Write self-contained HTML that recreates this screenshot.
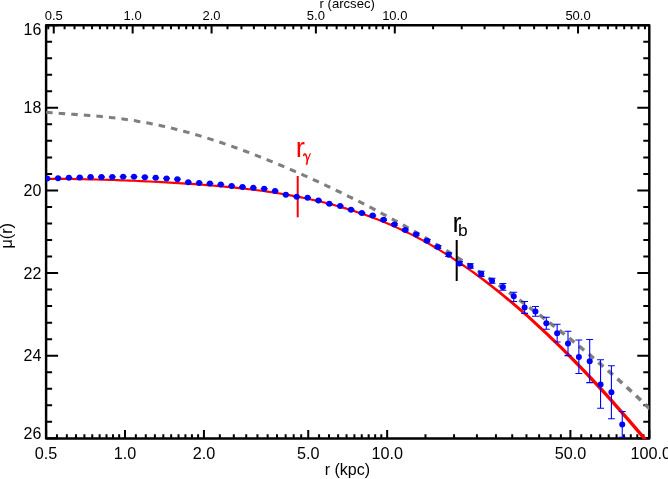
<!DOCTYPE html>
<html><head><meta charset="utf-8"><title>plot</title><style>html,body{margin:0;padding:0;background:#fff}body{width:668px;height:479px;overflow:hidden}</style></head><body>
<svg width="668" height="479" viewBox="0 0 668 479" style="display:block;will-change:transform">
<rect width="668" height="479" fill="#fff"/>
<defs><clipPath id="cp"><rect x="46.10" y="25.20" width="603.20" height="414.10"/></clipPath></defs>
<path d="M46.10 438.30 v-8.20 M125.01 438.30 v-8.20 M203.93 438.30 v-8.20 M308.24 438.30 v-8.20 M387.16 438.30 v-8.20 M570.39 438.30 v-8.20 M649.30 438.30 v-8.20 M56.95 438.30 v-4.10 M66.86 438.30 v-4.10 M75.97 438.30 v-4.10 M84.41 438.30 v-4.10 M92.26 438.30 v-4.10 M99.61 438.30 v-4.10 M106.51 438.30 v-4.10 M113.02 438.30 v-4.10 M119.17 438.30 v-4.10 M135.86 438.30 v-4.10 M145.77 438.30 v-4.10 M154.88 438.30 v-4.10 M163.32 438.30 v-4.10 M171.17 438.30 v-4.10 M178.52 438.30 v-4.10 M185.42 438.30 v-4.10 M191.93 438.30 v-4.10 M198.09 438.30 v-4.10 M219.84 438.30 v-4.10 M233.80 438.30 v-4.10 M246.23 438.30 v-4.10 M257.43 438.30 v-4.10 M267.64 438.30 v-4.10 M277.00 438.30 v-4.10 M285.65 438.30 v-4.10 M293.69 438.30 v-4.10 M301.20 438.30 v-4.10 M319.09 438.30 v-4.10 M329.00 438.30 v-4.10 M338.11 438.30 v-4.10 M346.55 438.30 v-4.10 M354.40 438.30 v-4.10 M361.75 438.30 v-4.10 M368.65 438.30 v-4.10 M375.16 438.30 v-4.10 M381.32 438.30 v-4.10 M425.46 438.30 v-4.10 M454.07 438.30 v-4.10 M476.92 438.30 v-4.10 M495.94 438.30 v-4.10 M512.23 438.30 v-4.10 M526.48 438.30 v-4.10 M539.14 438.30 v-4.10 M550.54 438.30 v-4.10 M560.89 438.30 v-4.10 M581.24 438.30 v-4.10 M591.14 438.30 v-4.10 M600.26 438.30 v-4.10 M608.69 438.30 v-4.10 M616.55 438.30 v-4.10 M623.90 438.30 v-4.10 M630.80 438.30 v-4.10 M637.30 438.30 v-4.10 M643.46 438.30 v-4.10 M53.75 25.20 v8.20 M132.66 25.20 v8.20 M211.58 25.20 v8.20 M315.89 25.20 v8.20 M394.81 25.20 v8.20 M578.04 25.20 v8.20 M64.60 25.20 v4.10 M74.51 25.20 v4.10 M83.62 25.20 v4.10 M92.06 25.20 v4.10 M99.91 25.20 v4.10 M107.26 25.20 v4.10 M114.16 25.20 v4.10 M120.67 25.20 v4.10 M126.82 25.20 v4.10 M143.51 25.20 v4.10 M153.42 25.20 v4.10 M162.53 25.20 v4.10 M170.97 25.20 v4.10 M178.82 25.20 v4.10 M186.17 25.20 v4.10 M193.07 25.20 v4.10 M199.58 25.20 v4.10 M205.74 25.20 v4.10 M227.49 25.20 v4.10 M241.45 25.20 v4.10 M253.88 25.20 v4.10 M265.08 25.20 v4.10 M275.29 25.20 v4.10 M284.65 25.20 v4.10 M293.30 25.20 v4.10 M301.34 25.20 v4.10 M308.85 25.20 v4.10 M326.74 25.20 v4.10 M336.65 25.20 v4.10 M345.76 25.20 v4.10 M354.20 25.20 v4.10 M362.05 25.20 v4.10 M369.40 25.20 v4.10 M376.30 25.20 v4.10 M382.81 25.20 v4.10 M388.97 25.20 v4.10 M433.11 25.20 v4.10 M461.72 25.20 v4.10 M484.57 25.20 v4.10 M503.59 25.20 v4.10 M519.88 25.20 v4.10 M534.13 25.20 v4.10 M546.79 25.20 v4.10 M558.19 25.20 v4.10 M568.54 25.20 v4.10 M588.89 25.20 v4.10 M598.79 25.20 v4.10 M607.91 25.20 v4.10 M616.34 25.20 v4.10 M624.20 25.20 v4.10 M631.55 25.20 v4.10 M638.45 25.20 v4.10 M644.95 25.20 v4.10 M48.3 25.20 v4.10 M46.10 25.20 h12.00 M649.30 25.20 h-12.00 M46.10 41.72 h6.00 M649.30 41.72 h-6.00 M46.10 58.25 h6.00 M649.30 58.25 h-6.00 M46.10 74.77 h6.00 M649.30 74.77 h-6.00 M46.10 91.30 h6.00 M649.30 91.30 h-6.00 M46.10 107.82 h12.00 M649.30 107.82 h-12.00 M46.10 124.34 h6.00 M649.30 124.34 h-6.00 M46.10 140.87 h6.00 M649.30 140.87 h-6.00 M46.10 157.39 h6.00 M649.30 157.39 h-6.00 M46.10 173.92 h6.00 M649.30 173.92 h-6.00 M46.10 190.44 h12.00 M649.30 190.44 h-12.00 M46.10 206.96 h6.00 M649.30 206.96 h-6.00 M46.10 223.49 h6.00 M649.30 223.49 h-6.00 M46.10 240.01 h6.00 M649.30 240.01 h-6.00 M46.10 256.54 h6.00 M649.30 256.54 h-6.00 M46.10 273.06 h12.00 M649.30 273.06 h-12.00 M46.10 289.58 h6.00 M649.30 289.58 h-6.00 M46.10 306.11 h6.00 M649.30 306.11 h-6.00 M46.10 322.63 h6.00 M649.30 322.63 h-6.00 M46.10 339.16 h6.00 M649.30 339.16 h-6.00 M46.10 355.68 h12.00 M649.30 355.68 h-12.00 M46.10 372.20 h6.00 M649.30 372.20 h-6.00 M46.10 388.73 h6.00 M649.30 388.73 h-6.00 M46.10 405.25 h6.00 M649.30 405.25 h-6.00 M46.10 421.78 h6.00 M649.30 421.78 h-6.00 M46.10 438.30 h12.00 M649.30 438.30 h-12.00" stroke="#000" stroke-width="2" fill="none"/>
<path d="M46.10 25.20 H649.30 V438.45 H46.10 Z" fill="none" stroke="#000" stroke-width="2.45" stroke-linejoin="round"/>
<g clip-path="url(#cp)">
<path d="M44.09 177.89 L48.15 177.85 L52.22 177.83 L56.28 177.82 L60.35 177.83 L64.41 177.85 L68.48 177.89 L72.54 177.94 L76.61 178.00 L80.67 178.07 L84.74 178.15 L88.80 178.24 L92.86 178.33 L96.93 178.44 L100.99 178.56 L105.05 178.68 L109.12 178.81 L113.18 178.94 L117.24 179.09 L121.31 179.24 L125.37 179.39 L129.43 179.56 L133.49 179.72 L137.56 179.90 L141.62 180.08 L145.68 180.27 L149.75 180.46 L153.81 180.66 L157.87 180.87 L161.94 181.08 L166.00 181.31 L170.06 181.53 L174.13 181.77 L178.19 182.02 L182.25 182.27 L186.32 182.53 L190.38 182.80 L194.44 183.08 L198.51 183.38 L202.57 183.68 L206.64 183.99 L210.70 184.32 L214.77 184.66 L218.83 185.01 L222.90 185.38 L226.96 185.76 L231.03 186.16 L235.09 186.57 L239.16 187.00 L243.23 187.45 L247.29 187.91 L251.36 188.40 L255.42 188.90 L259.49 189.43 L263.56 189.98 L267.63 190.55 L271.69 191.15 L275.76 191.77 L279.83 192.42 L283.90 193.09 L287.97 193.79 L292.03 194.52 L296.10 195.28 L300.17 196.07 L304.24 196.89 L308.31 197.75 L312.38 198.63 L316.45 199.56 L320.52 200.52 L324.59 201.51 L328.66 202.54 L332.73 203.62 L336.80 204.73 L340.88 205.88 L344.95 207.08 L349.02 208.31 L353.09 209.60 L357.16 210.92 L361.23 212.30 L365.30 213.72 L369.38 215.19 L373.45 216.70 L377.52 218.27 L381.59 219.89 L385.67 221.56 L389.74 223.29 L393.81 225.07 L397.88 226.89 L401.95 228.76 L406.02 230.69 L410.09 232.66 L414.17 234.69 L418.24 236.78 L422.31 238.94 L426.39 241.17 L430.46 243.45 L434.53 245.80 L438.60 248.21 L442.67 250.67 L446.74 253.20 L450.81 255.78 L454.88 258.41 L458.95 261.11 L463.03 263.85 L467.12 266.63 L471.21 269.47 L475.30 272.36 L479.38 275.31 L483.47 278.31 L487.56 281.37 L491.65 284.48 L495.74 287.64 L499.83 290.86 L503.91 294.13 L508.00 297.45 L512.09 300.83 L516.17 304.26 L520.24 307.75 L524.32 311.29 L528.39 314.87 L532.47 318.51 L536.55 322.19 L540.62 325.93 L544.70 329.71 L548.78 333.53 L552.85 337.41 L556.93 341.33 L561.00 345.29 L565.08 349.30 L569.15 353.36 L573.23 357.46 L577.30 361.60 L581.38 365.79 L585.46 370.02 L589.53 374.29 L593.61 378.61 L597.68 382.97 L601.75 387.37 L605.82 391.81 L609.89 396.30 L613.95 400.83 L618.02 405.40 L622.09 410.00 L626.15 414.65 L630.22 419.33 L634.28 424.05 L638.35 428.81 L642.41 433.60 L646.48 438.44 L650.55 443.30 L654.61 448.20 L651.99 450.37 L647.93 445.48 L643.87 440.62 L639.82 435.80 L635.76 431.01 L631.70 426.27 L627.65 421.55 L623.59 416.88 L619.53 412.25 L615.48 407.65 L611.42 403.10 L607.36 398.58 L603.31 394.10 L599.25 389.67 L595.20 385.27 L591.15 380.90 L587.11 376.59 L583.06 372.31 L579.01 368.07 L574.96 363.88 L570.92 359.73 L566.87 355.63 L562.82 351.57 L558.78 347.56 L554.73 343.59 L550.68 339.67 L546.64 335.79 L542.59 331.96 L538.54 328.18 L534.50 324.44 L530.45 320.75 L526.40 317.11 L522.36 313.52 L518.31 309.98 L514.26 306.49 L510.22 303.05 L506.18 299.65 L502.15 296.30 L498.11 292.99 L494.08 289.74 L490.05 286.54 L486.01 283.40 L481.98 280.30 L477.94 277.27 L473.91 274.28 L469.87 271.35 L465.84 268.47 L461.80 265.65 L457.76 262.90 L453.71 260.21 L449.65 257.59 L445.60 255.02 L441.55 252.51 L437.50 250.05 L433.45 247.66 L429.39 245.32 L425.34 243.05 L421.29 240.83 L417.25 238.69 L413.20 236.61 L409.15 234.59 L405.09 232.63 L401.04 230.71 L396.99 228.85 L392.94 227.04 L388.89 225.27 L384.84 223.55 L380.79 221.89 L376.74 220.27 L372.69 218.71 L368.64 217.20 L364.59 215.74 L360.54 214.33 L356.48 212.96 L352.43 211.64 L348.38 210.37 L344.33 209.14 L340.28 207.95 L336.23 206.80 L332.18 205.69 L328.12 204.63 L324.07 203.60 L320.02 202.61 L315.97 201.65 L311.91 200.73 L307.86 199.85 L303.81 199.00 L299.76 198.18 L295.70 197.39 L291.65 196.64 L287.59 195.91 L283.54 195.21 L279.49 194.54 L275.43 193.90 L271.38 193.28 L267.32 192.68 L263.27 192.11 L259.21 191.56 L255.15 191.04 L251.10 190.53 L247.04 190.05 L242.99 189.58 L238.93 189.14 L234.87 188.71 L230.81 188.29 L226.76 187.90 L222.70 187.52 L218.64 187.15 L214.58 186.80 L210.53 186.46 L206.47 186.14 L202.41 185.82 L198.35 185.52 L194.29 185.23 L190.24 184.95 L186.18 184.68 L182.12 184.41 L178.06 184.16 L174.00 183.92 L169.94 183.68 L165.88 183.45 L161.82 183.23 L157.76 183.02 L153.70 182.81 L149.64 182.61 L145.58 182.42 L141.52 182.23 L137.46 182.05 L133.40 181.87 L129.34 181.70 L125.28 181.54 L121.22 181.39 L117.17 181.24 L113.11 181.09 L109.05 180.96 L104.99 180.83 L100.93 180.70 L96.87 180.59 L92.81 180.48 L88.75 180.39 L84.69 180.30 L80.63 180.22 L76.57 180.15 L72.52 180.09 L68.46 180.04 L64.40 180.00 L60.34 179.98 L56.28 179.97 L52.23 179.98 L48.17 180.00 L44.11 180.04 Z" fill="#ff0000"/>
<path d="M46.24 110.76 L47.86 110.91 L49.49 111.05 L51.12 111.18 L52.75 111.31 L52.51 114.35 L50.87 114.22 L49.23 114.09 L47.60 113.95 L45.96 113.80Z M58.77 111.77 L60.40 111.88 L62.03 112.00 L63.67 112.11 L65.30 112.22 L65.09 115.27 L63.45 115.15 L61.82 115.04 L60.18 114.93 L58.55 114.81Z M71.33 112.64 L72.97 112.75 L74.60 112.86 L76.24 112.97 L77.87 113.09 L77.66 116.13 L76.03 116.01 L74.39 115.90 L72.76 115.79 L71.13 115.68Z M83.91 113.52 L85.55 113.64 L87.18 113.77 L88.82 113.90 L90.45 114.03 L90.21 117.07 L88.58 116.94 L86.95 116.81 L85.32 116.68 L83.69 116.56Z M96.49 114.54 L98.13 114.68 L99.76 114.83 L101.39 114.99 L103.03 115.15 L102.73 118.18 L101.10 118.02 L99.48 117.87 L97.85 117.72 L96.22 117.58Z M109.06 115.77 L110.69 115.95 L112.33 116.14 L113.96 116.32 L115.59 116.52 L115.22 119.55 L113.60 119.35 L111.98 119.17 L110.36 118.98 L108.73 118.80Z M121.61 117.28 L123.23 117.50 L124.86 117.72 L126.49 117.95 L128.11 118.19 L127.67 121.21 L126.06 120.97 L124.44 120.74 L122.82 120.52 L121.21 120.30Z M134.11 119.10 L135.74 119.36 L137.36 119.63 L138.98 119.90 L140.60 120.18 L140.08 123.18 L138.47 122.91 L136.86 122.64 L135.25 122.37 L133.64 122.11Z M146.57 121.25 L148.18 121.55 L149.80 121.86 L151.41 122.18 L153.02 122.50 L152.42 125.49 L150.82 125.17 L149.22 124.86 L147.62 124.55 L146.01 124.25Z M158.96 123.73 L160.57 124.07 L162.18 124.42 L163.78 124.78 L165.38 125.14 L164.70 128.12 L163.11 127.76 L161.52 127.40 L159.92 127.05 L158.33 126.71Z M171.29 126.53 L172.89 126.91 L174.48 127.30 L176.07 127.70 L177.67 128.10 L176.92 131.06 L175.33 130.66 L173.75 130.26 L172.16 129.87 L170.58 129.49Z M183.54 129.63 L185.13 130.05 L186.71 130.48 L188.29 130.92 L189.88 131.36 L189.06 134.29 L187.48 133.86 L185.91 133.43 L184.33 133.00 L182.75 132.58Z M195.71 133.02 L197.29 133.48 L198.86 133.94 L200.43 134.41 L202.01 134.88 L201.12 137.80 L199.56 137.33 L197.99 136.87 L196.43 136.40 L194.86 135.95Z M207.80 136.67 L209.37 137.16 L210.93 137.65 L212.50 138.15 L214.06 138.66 L213.12 141.56 L211.56 141.06 L210.01 140.56 L208.45 140.07 L206.89 139.58Z M219.82 140.55 L221.37 141.08 L222.93 141.60 L224.48 142.13 L226.03 142.66 L225.04 145.55 L223.50 145.02 L221.95 144.49 L220.40 143.97 L218.85 143.45Z M231.76 144.66 L233.31 145.21 L234.85 145.76 L236.39 146.31 L237.94 146.87 L236.90 149.74 L235.36 149.18 L233.82 148.63 L232.28 148.08 L230.74 147.53Z M243.63 148.96 L245.17 149.53 L246.70 150.11 L248.24 150.68 L249.77 151.26 L248.69 154.12 L247.16 153.54 L245.63 152.96 L244.10 152.39 L242.57 151.82Z M255.43 153.43 L256.96 154.03 L258.49 154.63 L260.01 155.22 L261.54 155.83 L260.42 158.66 L258.90 158.06 L257.37 157.47 L255.85 156.87 L254.33 156.28Z M267.17 158.07 L268.69 158.69 L270.21 159.30 L271.73 159.92 L273.24 160.54 L272.09 163.36 L270.57 162.74 L269.06 162.13 L267.54 161.51 L266.03 160.90Z M278.84 162.86 L280.36 163.49 L281.87 164.12 L283.38 164.76 L284.89 165.40 L283.70 168.21 L282.19 167.57 L280.69 166.94 L279.18 166.30 L277.67 165.67Z M290.46 167.78 L291.97 168.43 L293.47 169.08 L294.97 169.73 L296.48 170.39 L295.26 173.18 L293.76 172.53 L292.26 171.88 L290.76 171.23 L289.25 170.58Z M302.02 172.83 L303.52 173.49 L305.02 174.16 L306.52 174.83 L308.01 175.50 L306.76 178.29 L305.27 177.62 L303.77 176.95 L302.28 176.28 L300.79 175.62Z M313.53 177.99 L315.03 178.67 L316.52 179.35 L318.01 180.04 L319.50 180.72 L318.20 183.52 L316.72 182.83 L315.23 182.15 L313.75 181.47 L312.26 180.79Z M324.99 183.27 L326.48 183.97 L327.96 184.66 L329.44 185.36 L330.93 186.06 L329.60 188.86 L328.12 188.16 L326.64 187.46 L325.16 186.77 L323.68 186.07Z M336.39 188.67 L337.87 189.38 L339.35 190.09 L340.83 190.80 L342.30 191.52 L340.93 194.32 L339.46 193.61 L337.99 192.89 L336.52 192.18 L335.05 191.47Z M347.74 194.18 L349.21 194.90 L350.68 195.63 L352.15 196.36 L353.62 197.09 L352.22 199.90 L350.75 199.17 L349.29 198.44 L347.82 197.71 L346.36 196.99Z M359.04 199.80 L360.50 200.54 L361.96 201.28 L363.42 202.03 L364.88 202.77 L363.44 205.58 L361.99 204.84 L360.53 204.10 L359.07 203.35 L357.61 202.61Z M370.27 205.54 L371.73 206.30 L373.18 207.05 L374.63 207.81 L376.09 208.57 L374.61 211.39 L373.16 210.63 L371.71 209.87 L370.26 209.11 L368.81 208.36Z M381.44 211.40 L382.89 212.17 L384.34 212.94 L385.78 213.72 L387.23 214.49 L385.71 217.31 L384.27 216.53 L382.83 215.76 L381.39 214.98 L379.95 214.21Z M392.56 217.38 L394.00 218.16 L395.43 218.95 L396.87 219.74 L398.31 220.53 L396.75 223.35 L395.32 222.55 L393.89 221.76 L392.45 220.98 L391.02 220.19Z M403.60 223.47 L405.03 224.27 L406.46 225.08 L407.89 225.88 L409.32 226.69 L407.72 229.50 L406.30 228.70 L404.88 227.89 L403.45 227.09 L402.03 226.29Z M414.58 229.69 L416.00 230.51 L417.43 231.33 L418.84 232.15 L420.26 232.97 L418.62 235.78 L417.21 234.96 L415.80 234.14 L414.38 233.32 L412.97 232.50Z M425.49 236.03 L426.91 236.86 L428.32 237.70 L429.73 238.54 L431.14 239.38 L429.46 242.19 L428.05 241.35 L426.65 240.51 L425.24 239.68 L423.83 238.84Z M436.33 242.49 L437.73 243.34 L439.13 244.19 L440.53 245.05 L441.93 245.90 L440.21 248.71 L438.82 247.86 L437.42 247.00 L436.03 246.15 L434.63 245.30Z M447.09 249.08 L448.49 249.95 L449.88 250.81 L451.27 251.68 L452.66 252.55 L450.90 255.36 L449.51 254.49 L448.13 253.62 L446.74 252.75 L445.35 251.89Z M457.78 255.79 L459.16 256.67 L460.55 257.55 L461.93 258.44 L463.31 259.32 L461.50 262.12 L460.13 261.24 L458.75 260.35 L457.38 259.47 L456.00 258.59Z M468.39 262.62 L469.77 263.51 L471.14 264.41 L472.51 265.31 L473.88 266.21 L472.03 269.01 L470.67 268.11 L469.30 267.21 L467.94 266.31 L466.57 265.41Z M478.93 269.56 L480.29 270.48 L481.65 271.39 L483.01 272.30 L484.37 273.22 L482.49 276.01 L481.13 275.09 L479.78 274.18 L478.42 273.27 L477.06 272.35Z M489.38 276.63 L490.74 277.55 L492.09 278.48 L493.44 279.41 L494.79 280.34 L492.86 283.12 L491.52 282.19 L490.17 281.26 L488.83 280.34 L487.48 279.41Z M499.76 283.80 L501.11 284.74 L502.45 285.68 L503.79 286.62 L505.13 287.57 L503.17 290.35 L501.83 289.40 L500.50 288.46 L499.16 287.52 L497.82 286.58Z M510.07 291.08 L511.40 292.03 L512.74 292.99 L514.07 293.95 L515.40 294.90 L513.39 297.67 L512.07 296.72 L510.74 295.76 L509.42 294.81 L508.09 293.85Z M520.30 298.46 L521.62 299.43 L522.95 300.40 L524.27 301.37 L525.59 302.34 L523.55 305.11 L522.23 304.14 L520.92 303.17 L519.60 302.20 L518.28 301.23Z M530.46 305.95 L531.77 306.93 L533.08 307.91 L534.40 308.89 L535.71 309.88 L533.63 312.64 L532.32 311.65 L531.02 310.67 L529.71 309.69 L528.40 308.71Z M540.54 313.53 L541.85 314.52 L543.15 315.52 L544.45 316.51 L545.75 317.51 L543.64 320.26 L542.34 319.27 L541.05 318.27 L539.75 317.28 L538.45 316.29Z M550.55 321.21 L551.85 322.21 L553.14 323.22 L554.44 324.22 L555.73 325.23 L553.58 327.98 L552.29 326.97 L551.00 325.96 L549.71 324.96 L548.42 323.96Z M560.49 328.97 L561.78 329.99 L563.07 331.01 L564.35 332.03 L565.63 333.05 L563.45 335.79 L562.17 334.77 L560.89 333.75 L559.61 332.73 L558.33 331.72Z M570.36 336.83 L571.64 337.86 L572.92 338.89 L574.19 339.92 L575.47 340.95 L573.25 343.68 L571.98 342.65 L570.71 341.62 L569.44 340.59 L568.16 339.57Z M580.16 344.78 L581.43 345.81 L582.70 346.85 L583.97 347.90 L585.23 348.94 L582.97 351.67 L581.71 350.62 L580.45 349.58 L579.19 348.54 L577.93 347.51Z M589.89 352.81 L591.15 353.86 L592.41 354.91 L593.66 355.97 L594.92 357.02 L592.63 359.74 L591.38 358.69 L590.13 357.63 L588.87 356.58 L587.62 355.53Z M599.54 360.94 L600.79 362.00 L602.04 363.06 L603.29 364.13 L604.53 365.20 L602.20 367.90 L600.96 366.84 L599.72 365.77 L598.48 364.71 L597.23 363.65Z M609.12 369.16 L610.35 370.23 L611.59 371.31 L612.83 372.39 L614.06 373.47 L611.69 376.16 L610.46 375.08 L609.23 374.01 L608.00 372.93 L606.77 371.86Z M618.60 377.47 L619.83 378.56 L621.06 379.65 L622.28 380.75 L623.50 381.84 L621.09 384.52 L619.88 383.43 L618.66 382.34 L617.44 381.25 L616.22 380.16Z M628.00 385.90 L629.21 387.01 L630.42 388.11 L631.63 389.22 L632.84 390.33 L630.40 392.98 L629.20 391.87 L627.99 390.77 L626.79 389.67 L625.58 388.57Z M637.29 394.45 L638.49 395.57 L639.69 396.69 L640.88 397.81 L642.07 398.94 L639.60 401.56 L638.41 400.43 L637.22 399.32 L636.03 398.20 L634.83 397.08Z M646.47 403.12 L647.65 404.25 L648.83 405.39 L650.01 406.53 L651.19 407.68 L648.68 410.26 L647.51 409.12 L646.33 407.98 L645.16 406.85 L643.98 405.72Z" fill="#7f7f7f"/>
</g>
<path d="M297.7 176 V217.3" stroke="#ff0000" stroke-width="2"/>
<path d="M456.7 240 V281" stroke="#000" stroke-width="2"/>
<g clip-path="url(#cp)">
<path d="M47.20 178.50 V178.70 M43.75 178.50 h6.9 M43.75 178.70 h6.9 M58.05 178.10 V178.30 M54.60 178.10 h6.9 M54.60 178.30 h6.9 M68.90 177.60 V177.80 M65.45 177.60 h6.9 M65.45 177.80 h6.9 M79.75 177.30 V177.50 M76.30 177.30 h6.9 M76.30 177.50 h6.9 M90.60 177.00 V177.20 M87.15 177.00 h6.9 M87.15 177.20 h6.9 M101.45 176.90 V177.10 M98.00 176.90 h6.9 M98.00 177.10 h6.9 M112.30 176.80 V177.00 M108.85 176.80 h6.9 M108.85 177.00 h6.9 M123.15 176.60 V176.80 M119.70 176.60 h6.9 M119.70 176.80 h6.9 M134.00 176.60 V176.80 M130.55 176.60 h6.9 M130.55 176.80 h6.9 M144.85 177.10 V177.30 M141.40 177.10 h6.9 M141.40 177.30 h6.9 M155.70 177.70 V177.90 M152.25 177.70 h6.9 M152.25 177.90 h6.9 M166.55 178.30 V178.50 M163.10 178.30 h6.9 M163.10 178.50 h6.9 M177.40 179.10 V179.30 M173.95 179.10 h6.9 M173.95 179.30 h6.9 M188.25 182.10 V182.30 M184.80 182.10 h6.9 M184.80 182.30 h6.9 M199.10 182.80 V183.00 M195.65 182.80 h6.9 M195.65 183.00 h6.9 M209.95 183.30 V183.50 M206.50 183.30 h6.9 M206.50 183.50 h6.9 M220.80 184.30 V184.50 M217.35 184.30 h6.9 M217.35 184.50 h6.9 M231.65 185.80 V186.00 M228.20 185.80 h6.9 M228.20 186.00 h6.9 M242.50 186.80 V187.00 M239.05 186.80 h6.9 M239.05 187.00 h6.9 M253.35 187.68 V187.92 M249.90 187.68 h6.9 M249.90 187.92 h6.9 M264.20 188.66 V188.94 M260.75 188.66 h6.9 M260.75 188.94 h6.9 M275.05 190.84 V191.16 M271.60 190.84 h6.9 M271.60 191.16 h6.9 M285.90 194.61 V194.99 M282.45 194.61 h6.9 M282.45 194.99 h6.9 M296.75 196.48 V196.92 M293.30 196.48 h6.9 M293.30 196.92 h6.9 M307.60 197.55 V198.05 M304.15 197.55 h6.9 M304.15 198.05 h6.9 M318.45 200.11 V200.69 M315.00 200.11 h6.9 M315.00 200.69 h6.9 M329.30 203.47 V204.13 M325.85 203.47 h6.9 M325.85 204.13 h6.9 M340.15 205.51 V206.29 M336.70 205.51 h6.9 M336.70 206.29 h6.9 M351.00 209.25 V210.15 M347.55 209.25 h6.9 M347.55 210.15 h6.9 M361.85 212.58 V213.62 M358.40 212.58 h6.9 M358.40 213.62 h6.9 M372.70 215.00 V216.20 M369.25 215.00 h6.9 M369.25 216.20 h6.9 M383.55 219.11 V220.49 M380.10 219.11 h6.9 M380.10 220.49 h6.9 M394.40 223.60 V225.20 M390.95 223.60 h6.9 M390.95 225.20 h6.9 M405.25 229.08 V230.92 M401.80 229.08 h6.9 M401.80 230.92 h6.9 M416.10 233.33 V235.47 M412.65 233.33 h6.9 M412.65 235.47 h6.9 M426.95 239.47 V241.93 M423.50 239.47 h6.9 M423.50 241.93 h6.9 M437.80 245.47 V248.33 M434.35 245.47 h6.9 M434.35 248.33 h6.9 M448.65 253.15 V256.45 M445.20 253.15 h6.9 M445.20 256.45 h6.9 M459.50 261.60 V265.40 M456.05 261.60 h6.9 M456.05 265.40 h6.9 M470.35 263.70 V268.30 M466.90 263.70 h6.9 M466.90 268.30 h6.9 M481.20 271.20 V276.40 M477.75 271.20 h6.9 M477.75 276.40 h6.9 M492.05 278.20 V283.20 M488.60 278.20 h6.9 M488.60 283.20 h6.9 M502.90 283.50 V290.30 M499.45 283.50 h6.9 M499.45 290.30 h6.9 M513.75 292.30 V301.50 M510.30 292.30 h6.9 M510.30 301.50 h6.9 M524.60 301.50 V313.40 M521.15 301.50 h6.9 M521.15 313.40 h6.9 M535.45 306.50 V316.30 M532.00 306.50 h6.9 M532.00 316.30 h6.9 M546.30 317.30 V329.20 M542.85 317.30 h6.9 M542.85 329.20 h6.9 M557.15 324.20 V342.00 M553.70 324.20 h6.9 M553.70 342.00 h6.9 M568.00 331.20 V355.60 M564.55 331.20 h6.9 M564.55 355.60 h6.9 M578.85 340.00 V373.50 M575.40 340.00 h6.9 M575.40 373.50 h6.9 M589.70 339.50 V382.60 M586.25 339.50 h6.9 M586.25 382.60 h6.9 M600.55 359.80 V408.30 M597.10 359.80 h6.9 M597.10 408.30 h6.9 M611.40 365.70 V418.80 M607.95 365.70 h6.9 M607.95 418.80 h6.9 M622.25 411.50 V437.30 M618.80 411.50 h6.9 M618.80 437.30 h6.9" stroke="#0000ff" stroke-width="1.1" fill="none"/>
<circle cx="47.20" cy="178.60" r="3.0" fill="#0000ff"/>
<circle cx="58.05" cy="178.20" r="3.0" fill="#0000ff"/>
<circle cx="68.90" cy="177.70" r="3.0" fill="#0000ff"/>
<circle cx="79.75" cy="177.40" r="3.0" fill="#0000ff"/>
<circle cx="90.60" cy="177.10" r="3.0" fill="#0000ff"/>
<circle cx="101.45" cy="177.00" r="3.0" fill="#0000ff"/>
<circle cx="112.30" cy="176.90" r="3.0" fill="#0000ff"/>
<circle cx="123.15" cy="176.70" r="3.0" fill="#0000ff"/>
<circle cx="134.00" cy="176.70" r="3.0" fill="#0000ff"/>
<circle cx="144.85" cy="177.20" r="3.0" fill="#0000ff"/>
<circle cx="155.70" cy="177.80" r="3.0" fill="#0000ff"/>
<circle cx="166.55" cy="178.40" r="3.0" fill="#0000ff"/>
<circle cx="177.40" cy="179.20" r="3.0" fill="#0000ff"/>
<circle cx="188.25" cy="182.20" r="3.0" fill="#0000ff"/>
<circle cx="199.10" cy="182.90" r="3.0" fill="#0000ff"/>
<circle cx="209.95" cy="183.40" r="3.0" fill="#0000ff"/>
<circle cx="220.80" cy="184.40" r="3.0" fill="#0000ff"/>
<circle cx="231.65" cy="185.90" r="3.0" fill="#0000ff"/>
<circle cx="242.50" cy="186.90" r="3.0" fill="#0000ff"/>
<circle cx="253.35" cy="187.80" r="3.0" fill="#0000ff"/>
<circle cx="264.20" cy="188.80" r="3.0" fill="#0000ff"/>
<circle cx="275.05" cy="191.00" r="3.0" fill="#0000ff"/>
<circle cx="285.90" cy="194.80" r="3.0" fill="#0000ff"/>
<circle cx="296.75" cy="196.70" r="3.0" fill="#0000ff"/>
<circle cx="307.60" cy="197.80" r="3.0" fill="#0000ff"/>
<circle cx="318.45" cy="200.40" r="3.0" fill="#0000ff"/>
<circle cx="329.30" cy="203.80" r="3.0" fill="#0000ff"/>
<circle cx="340.15" cy="205.90" r="3.0" fill="#0000ff"/>
<circle cx="351.00" cy="209.70" r="3.0" fill="#0000ff"/>
<circle cx="361.85" cy="213.10" r="3.0" fill="#0000ff"/>
<circle cx="372.70" cy="215.60" r="3.0" fill="#0000ff"/>
<circle cx="383.55" cy="219.80" r="3.0" fill="#0000ff"/>
<circle cx="394.40" cy="224.40" r="3.0" fill="#0000ff"/>
<circle cx="405.25" cy="230.00" r="3.0" fill="#0000ff"/>
<circle cx="416.10" cy="234.40" r="3.0" fill="#0000ff"/>
<circle cx="426.95" cy="240.70" r="3.0" fill="#0000ff"/>
<circle cx="437.80" cy="246.90" r="3.0" fill="#0000ff"/>
<circle cx="448.65" cy="254.80" r="3.0" fill="#0000ff"/>
<circle cx="459.50" cy="263.50" r="3.0" fill="#0000ff"/>
<circle cx="470.35" cy="266.00" r="3.0" fill="#0000ff"/>
<circle cx="481.20" cy="273.80" r="3.0" fill="#0000ff"/>
<circle cx="492.05" cy="280.70" r="3.0" fill="#0000ff"/>
<circle cx="502.90" cy="286.90" r="3.0" fill="#0000ff"/>
<circle cx="513.75" cy="296.30" r="3.0" fill="#0000ff"/>
<circle cx="524.60" cy="307.50" r="3.0" fill="#0000ff"/>
<circle cx="535.45" cy="311.50" r="3.0" fill="#0000ff"/>
<circle cx="546.30" cy="323.20" r="3.0" fill="#0000ff"/>
<circle cx="557.15" cy="333.20" r="3.0" fill="#0000ff"/>
<circle cx="568.00" cy="343.50" r="3.0" fill="#0000ff"/>
<circle cx="578.85" cy="356.90" r="3.0" fill="#0000ff"/>
<circle cx="589.70" cy="361.30" r="3.0" fill="#0000ff"/>
<circle cx="600.55" cy="384.40" r="3.0" fill="#0000ff"/>
<circle cx="611.40" cy="392.30" r="3.0" fill="#0000ff"/>
<circle cx="622.25" cy="424.40" r="3.0" fill="#0000ff"/>
</g>
<text x="53.75" y="19.6" font-size="13" text-anchor="middle" font-family="Liberation Sans, sans-serif">0.5</text>
<text x="132.66" y="19.6" font-size="13" text-anchor="middle" font-family="Liberation Sans, sans-serif">1.0</text>
<text x="211.58" y="19.6" font-size="13" text-anchor="middle" font-family="Liberation Sans, sans-serif">2.0</text>
<text x="315.89" y="19.6" font-size="13" text-anchor="middle" font-family="Liberation Sans, sans-serif">5.0</text>
<text x="394.81" y="19.6" font-size="13" text-anchor="middle" font-family="Liberation Sans, sans-serif">10.0</text>
<text x="578.04" y="19.6" font-size="13" text-anchor="middle" font-family="Liberation Sans, sans-serif">50.0</text>
<text x="347.2" y="8.2" font-size="13.1" text-anchor="middle" font-family="Liberation Sans, sans-serif">r (arcsec)</text>
<text x="46.10" y="458.6" font-size="16.2" text-anchor="middle" font-family="Liberation Sans, sans-serif">0.5</text>
<text x="125.01" y="458.6" font-size="16.2" text-anchor="middle" font-family="Liberation Sans, sans-serif">1.0</text>
<text x="203.93" y="458.6" font-size="16.2" text-anchor="middle" font-family="Liberation Sans, sans-serif">2.0</text>
<text x="308.24" y="458.6" font-size="16.2" text-anchor="middle" font-family="Liberation Sans, sans-serif">5.0</text>
<text x="387.16" y="458.6" font-size="16.2" text-anchor="middle" font-family="Liberation Sans, sans-serif">10.0</text>
<text x="570.39" y="458.6" font-size="16.2" text-anchor="middle" font-family="Liberation Sans, sans-serif">50.0</text>
<text x="650.80" y="458.6" font-size="16.2" text-anchor="middle" font-family="Liberation Sans, sans-serif">100.0</text>
<text x="347.3" y="475.2" font-size="16" text-anchor="middle" font-family="Liberation Sans, sans-serif">r (kpc)</text>
<text x="41.4" y="35.30" font-size="16" text-anchor="end" font-family="Liberation Sans, sans-serif">16</text>
<text x="41.4" y="113.42" font-size="16" text-anchor="end" font-family="Liberation Sans, sans-serif">18</text>
<text x="41.4" y="196.04" font-size="16" text-anchor="end" font-family="Liberation Sans, sans-serif">20</text>
<text x="41.4" y="278.66" font-size="16" text-anchor="end" font-family="Liberation Sans, sans-serif">22</text>
<text x="41.4" y="361.28" font-size="16" text-anchor="end" font-family="Liberation Sans, sans-serif">24</text>
<text x="41.4" y="438.50" font-size="16" text-anchor="end" font-family="Liberation Sans, sans-serif">26</text>
<text transform="translate(12.2,235.8) rotate(-90)" font-size="16.2" text-anchor="middle" font-family="Liberation Sans, sans-serif">μ(r)</text>
<text x="295.8" y="157" font-size="27.5" fill="#ff0000" font-family="Liberation Sans, sans-serif">r</text>
<g fill="none" stroke="#ff0000" stroke-linecap="round"><path d="M303.7 155.6 C303.9 153.9 305.2 153.5 305.9 154.9 C306.7 156.5 307.1 158.6 307.4 161" stroke-width="1.5"/><path d="M310.2 153.6 C309.3 156.2 307.9 159.5 307.3 161.2" stroke-width="1.1"/><path d="M307.3 160.6 C306.2 162 305.7 164.7 306.6 164.9 C307.6 164.9 307.9 162 307.3 160.6 Z" fill="#ff0000" stroke-width="0.5"/></g>
<text x="452.4" y="231.5" font-size="27" font-family="Liberation Sans, sans-serif">r</text>
<text x="458.1" y="236.3" font-size="17.4" font-family="Liberation Sans, sans-serif">b</text>
</svg>
</body></html>
